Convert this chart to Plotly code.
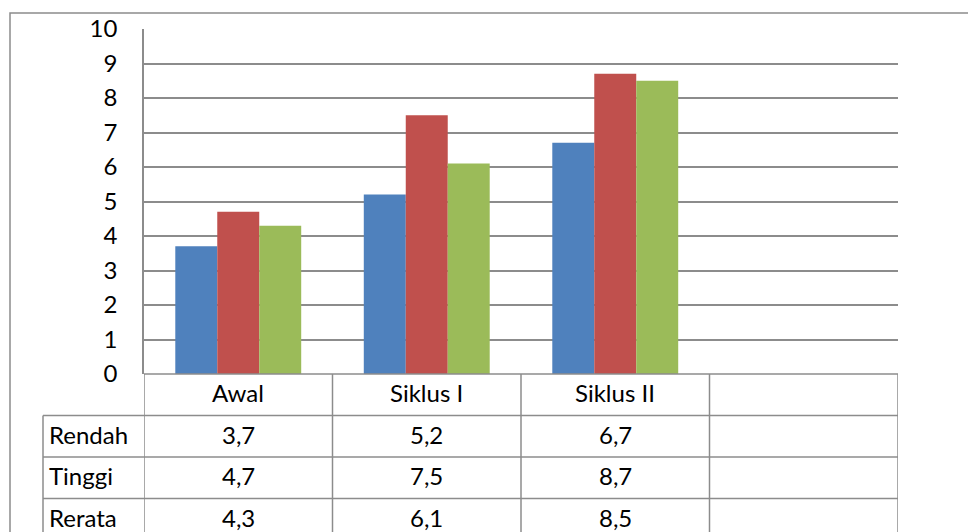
import plotly.graph_objects as go

# ---- data ----
categories = ["Awal", "Siklus I", "Siklus II", ""]
series_names = ["Rendah", "Tinggi", "Rerata"]
rendah = [3.7, 5.2, 6.7, None]
tinggi = [4.7, 7.5, 8.7, None]
rerata = [4.3, 6.1, 8.5, None]
y_ticks = list(range(0, 11))

series_values = [rendah, tinggi, rerata]
colors = ["#4F81BD", "#C0504D", "#9BBB59"]

# ---- layout geometry (pixels) ----
W, H = 968, 532
ML, MR, MT, MB = 144, 70, 29, 158
PW = W - ML - MR
PH = H - MT - MB
FONT = "Lato, Open Sans, sans-serif"
LINE = "#8c8c8c"
FS = 24
TEXT_NUDGE = -2  # px, vertical nudge of table text


def px_x(p):
    return (p - ML) / PW


def px_y(p):
    return (H - MB - p) / PH


n = len(categories)
xs = list(range(n))

fig = go.Figure()
for name, vals, col in zip(series_names, series_values, colors):
    fig.add_trace(go.Bar(x=xs, y=vals, name=name, marker=dict(color=col, line=dict(width=0)),
                         showlegend=False, hoverinfo="skip"))

shapes = []
annotations = []

# table geometry
header_top = H - MB
row_h = 41.5
row_edges = [header_top + row_h * k for k in range(len(series_names) + 2)]
label_left = 43

# vertical column lines (category boundaries)
for k in range(n + 1):
    shapes.append(dict(type="line", xref="x", yref="paper",
                       x0=k - 0.5, x1=k - 0.5, y0=px_y(row_edges[0]), y1=px_y(row_edges[-1]),
                       line=dict(color=LINE, width=1.5)))
# left border of row label column
shapes.append(dict(type="line", xref="paper", yref="paper",
                   x0=px_x(label_left), x1=px_x(label_left),
                   y0=px_y(row_edges[1]), y1=px_y(row_edges[-1]),
                   line=dict(color=LINE, width=1.5)))
# horizontal lines
shapes.append(dict(type="line", xref="paper", yref="paper", x0=0, x1=1,
                   y0=px_y(row_edges[0]), y1=px_y(row_edges[0]),
                   line=dict(color=LINE, width=1.5)))
for e in row_edges[1:]:
    shapes.append(dict(type="line", xref="paper", yref="paper",
                       x0=px_x(label_left), x1=1, y0=px_y(e), y1=px_y(e),
                       line=dict(color=LINE, width=1.5)))
# outer chart frame
shapes.append(dict(type="rect", xref="paper", yref="paper",
                   x0=px_x(10), x1=px_x(W + 5), y0=px_y(H + 20), y1=px_y(13),
                   line=dict(color=LINE, width=1.5), fillcolor="rgba(0,0,0,0)", layer="below"))

# header row: category names
for i, c in enumerate(categories):
    if c:
        annotations.append(dict(x=i, xref="x",
                                y=px_y((row_edges[0] + row_edges[1]) / 2 + TEXT_NUDGE), yref="paper",
                                text=c, showarrow=False, xanchor="center", yanchor="middle",
                                borderpad=0,
                                font=dict(family=FONT, size=FS, color="#000")))

# data rows
for r, (name, vals) in enumerate(zip(series_names, series_values)):
    yc = px_y((row_edges[r + 1] + row_edges[r + 2]) / 2 + TEXT_NUDGE)
    annotations.append(dict(x=px_x(48), xref="paper", y=yc, yref="paper", text=name,
                            showarrow=False, xanchor="left", yanchor="middle", borderpad=0,
                            font=dict(family=FONT, size=FS, color="#000")))
    for i, v in enumerate(vals):
        if v is not None:
            annotations.append(dict(x=i, xref="x", y=yc, yref="paper",
                                    text=f"{v:.1f}".replace(".", ","), showarrow=False,
                                    xanchor="center", yanchor="middle", borderpad=0,
                                    font=dict(family=FONT, size=FS, color="#000")))

fig.update_layout(
    width=W, height=H,
    margin=dict(l=ML, r=MR, t=MT, b=MB),
    paper_bgcolor="white", plot_bgcolor="white",
    barmode="group", bargap=0.332, bargroupgap=0,
    shapes=shapes, annotations=annotations,
    hovermode=False,
    xaxis=dict(range=[-0.5, n - 0.5], showticklabels=False, showgrid=False,
               zeroline=False, showline=False, ticks="", fixedrange=True),
    yaxis=dict(range=[0, 10], tickvals=y_ticks, ticktext=[str(t) for t in y_ticks],
               showgrid=True, gridcolor=LINE, gridwidth=1.5, zeroline=False,
               showline=True, linecolor=LINE, linewidth=1.5, ticks="",
               ticklabelstandoff=20, fixedrange=True,
               tickfont=dict(family=FONT, size=FS, color="#000")),
)

fig.write_html("out.html",
               config={"displayModeBar": False},
               post_script="document.body.style.margin='0px';document.body.style.overflow='hidden';")
